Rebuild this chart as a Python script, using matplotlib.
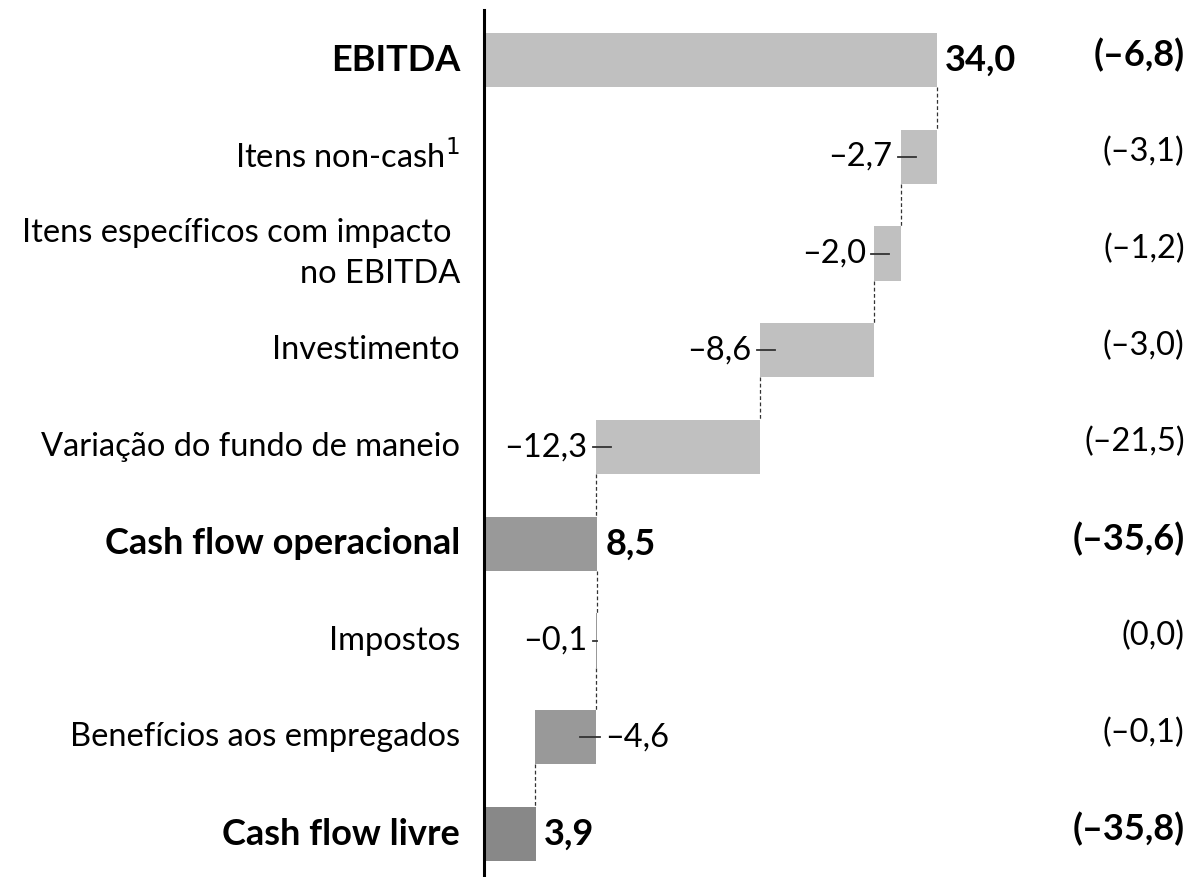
import matplotlib.pyplot as plt

# waterfall data
categories = ["EBITDA", "Itens non-cash$^{1}$", "Itens específicos com impacto \nno EBITDA",
              "Investimento", "Variação do fundo de maneio", "Cash flow operacional",
              "Impostos", "Benefícios aos empregados", "Cash flow livre"]
values = [34.0, -2.7, -2.0, -8.6, -12.3, 8.5, -0.1, -4.6, 3.9]
is_total = [True, False, False, False, False, True, False, False, True]
prev_labels = ["(–6,8)", "(–3,1)", "(–1,2)", "(–3,0)", "(–21,5)", "(–35,6)", "(0,0)", "(–0,1)", "(–35,8)"]
colors = ["#c0c0c0", "#c0c0c0", "#c0c0c0", "#c0c0c0", "#c0c0c0", "#999999", "#999999", "#999999", "#888888"]

plt.rcParams['font.family'] = ['Lato', 'DejaVu Sans']
fig = plt.figure(figsize=(11.97, 8.77), dpi=100)
ax = fig.add_axes([484/1197, 0, 1 - 484/1197, 867/877])
ax.set_xlim(0, 713/13.32)
ax.set_ylim(8.444, -0.517)
for s in ["top", "right", "bottom"]:
    ax.spines[s].set_visible(False)
ax.spines["left"].set_linewidth(2.2)
ax.set_xticks([])
ax.set_yticks([])

px = 1/13.32
h = 0.56
fs = 23.5
fsb = 26
running = 0
ends = []
for i, v in enumerate(values):
    if is_total[i]:
        left, width = 0, v
        running = v
    else:
        left, width = running + v, -v
        running = running + v
    ax.barh(i, width, left=left, height=h, color=colors[i], edgecolor="none")
    ends.append(running)

    if is_total[i]:
        txt = f"{v:.1f}".replace(".", ",")
        ax.annotate(txt, (v, i), xytext=(6, 0), textcoords="offset points",
                    va="center", ha="left", fontsize=fsb, fontweight="bold")
    else:
        txt = f"–{abs(v):.1f}".replace(".", ",")
        if i == 7:
            edge = left + width
            ax.plot([edge - 16*px, edge + 4*px], [i, i], color="#333333", lw=1.3)
            ax.annotate(txt, (edge, i), xytext=(7, 0), textcoords="offset points",
                        va="center", ha="left", fontsize=fs)
        else:
            ext = 15 if i != 6 else 1
            ax.plot([left - 3*px, left + ext*px], [i, i], color="#333333", lw=1.3)
            ax.annotate(txt, (left, i), xytext=(-6, 0), textcoords="offset points",
                        va="center", ha="right", fontsize=fs)

    weight = "bold" if is_total[i] else "normal"
    size = fsb if is_total[i] else fs
    ax.text(-1.8, i, categories[i], ha="right", va="center", fontsize=size,
            fontweight=weight, clip_on=False, linespacing=1.45)
    ax.text(52.6, i - 0.05, prev_labels[i], ha="right", va="center", fontsize=size,
            fontweight=weight)

# dashed connectors
for i in range(len(values) - 1):
    ax.plot([ends[i], ends[i]], [i + h/2, i + 1 - h/2], color="#333333",
            lw=0.9, ls=(0, (3, 2)))

fig.savefig("out.png", dpi=100)
